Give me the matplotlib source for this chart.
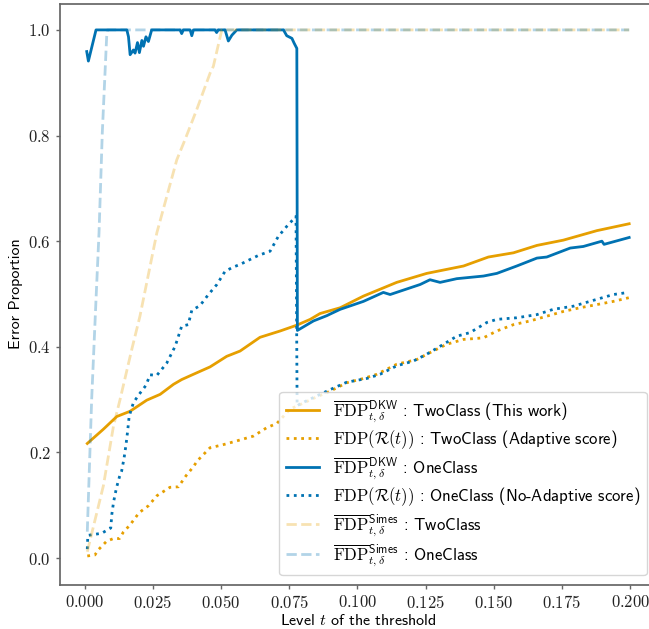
import matplotlib
matplotlib.use("Agg")
import matplotlib.pyplot as plt
from matplotlib.ticker import FuncFormatter

plt.rcParams['mathtext.fontset'] = 'cm'
plt.rcParams['font.family'] = ['cmss10', 'DejaVu Sans']
plt.rcParams['axes.unicode_minus'] = False

ORANGE = '#E69F00'
BLUE = '#0072B2'

# TwoClass, DKW bound (solid orange)
t_two_dkw = [0.001, 0.0069, 0.0118, 0.0167, 0.0228, 0.0277, 0.0326, 0.0356, 0.0399,
             0.046, 0.0521, 0.057, 0.0643, 0.0717, 0.0778, 0.0827, 0.0863, 0.0937,
             0.1022, 0.1144, 0.1254, 0.1389, 0.148, 0.1572, 0.1658, 0.1755, 0.1878, 0.1996]
v_two_dkw = [0.217, 0.244, 0.268, 0.278, 0.299, 0.310, 0.329, 0.338, 0.348,
             0.362, 0.382, 0.392, 0.418, 0.430, 0.441, 0.452, 0.463, 0.474,
             0.496, 0.522, 0.539, 0.553, 0.570, 0.578, 0.592, 0.602, 0.620, 0.633]

# TwoClass, true FDP (dotted orange)
t_two_fdp = [0.001, 0.0038, 0.0051, 0.0081, 0.0106, 0.0128, 0.0142, 0.0167, 0.020,
             0.0234, 0.0265, 0.0313, 0.0344, 0.0372, 0.0399, 0.0413, 0.046, 0.0503,
             0.0545, 0.0619, 0.0668, 0.0705, 0.0753, 0.080, 0.085, 0.090, 0.0961,
             0.1022, 0.1071, 0.1144, 0.1218, 0.1266, 0.1328, 0.1389, 0.1462, 0.1511,
             0.1572, 0.1633, 0.1694, 0.1755, 0.1816, 0.1878, 0.1938, 0.1995]
v_two_fdp = [0.004, 0.006, 0.016, 0.032, 0.037, 0.037, 0.049, 0.063, 0.086,
             0.099, 0.118, 0.134, 0.135, 0.156, 0.173, 0.184, 0.209, 0.214,
             0.220, 0.231, 0.247, 0.255, 0.282, 0.293, 0.305, 0.316, 0.332,
             0.340, 0.348, 0.367, 0.376, 0.389, 0.405, 0.414, 0.417, 0.430,
             0.442, 0.449, 0.458, 0.467, 0.474, 0.480, 0.486, 0.493]

# OneClass, DKW bound (solid blue)
t_one_dkw = [0.0008, 0.0014, 0.0042, 0.0155, 0.0161, 0.0167, 0.0179, 0.0185, 0.0194,
             0.0201, 0.021, 0.0216, 0.0225, 0.0234, 0.0246, 0.0350, 0.0356, 0.0362,
             0.0387, 0.0393, 0.0399, 0.0478, 0.0484, 0.049, 0.0515, 0.0527, 0.054,
             0.0558, 0.0729, 0.0741, 0.076, 0.0768, 0.0775, 0.0778, 0.0780, 0.0839,
             0.0888, 0.090, 0.0937, 0.1022, 0.1095, 0.112, 0.123, 0.1266, 0.1303,
             0.1364, 0.1462, 0.1511, 0.1584, 0.1658, 0.1694, 0.178, 0.1828, 0.1896,
             0.1904, 0.1996]
v_one_dkw = [0.959, 0.941, 1.0, 1.0, 0.987, 0.953, 0.962, 0.956, 0.976,
             0.957, 0.980, 0.969, 0.987, 0.978, 1.0, 1.0, 0.993, 1.0,
             1.0, 0.989, 1.0, 1.0, 0.995, 1.0, 1.0, 0.979, 0.990,
             1.0, 1.0, 0.989, 0.984, 0.975, 0.968, 0.965, 0.431, 0.449,
             0.459, 0.462, 0.471, 0.486, 0.503, 0.499, 0.518, 0.527, 0.522,
             0.529, 0.534, 0.539, 0.553, 0.568, 0.570, 0.587, 0.590, 0.600,
             0.594, 0.607]

# OneClass, true FDP (dotted blue)
t_one_fdp = [0.001, 0.0012, 0.0063, 0.0096, 0.0100, 0.0106, 0.0112, 0.0118, 0.0128,
             0.0136, 0.0145, 0.0152, 0.0158, 0.0163, 0.0169, 0.0179, 0.0197, 0.0225,
             0.024, 0.0265, 0.0301, 0.0332, 0.0356, 0.038, 0.0393, 0.0423, 0.0454,
             0.0485, 0.0515, 0.0545, 0.057, 0.0613, 0.0637, 0.068, 0.071, 0.0741,
             0.0775, 0.0779, 0.079, 0.0839, 0.090, 0.0961, 0.1034, 0.1083, 0.1144,
             0.1205, 0.1254, 0.1303, 0.1364, 0.1413, 0.1474, 0.1511, 0.1584, 0.1658,
             0.1718, 0.1792, 0.1878, 0.1938, 0.1993]
v_one_fdp = [0.017, 0.043, 0.047, 0.057, 0.083, 0.105, 0.121, 0.135, 0.154,
             0.165, 0.190, 0.215, 0.241, 0.266, 0.278, 0.294, 0.308, 0.327,
             0.347, 0.346, 0.369, 0.401, 0.439, 0.442, 0.469, 0.478, 0.499,
             0.518, 0.543, 0.551, 0.556, 0.567, 0.573, 0.581, 0.609, 0.628,
             0.647, 0.288, 0.292, 0.304, 0.319, 0.333, 0.340, 0.348, 0.364,
             0.373, 0.386, 0.401, 0.420, 0.427, 0.446, 0.452, 0.455, 0.461,
             0.471, 0.477, 0.490, 0.499, 0.503]

# Simes bounds (pale dashed)
t_two_simes = [0.001, 0.0069, 0.0106, 0.013, 0.0173, 0.0203, 0.0265, 0.0338, 0.0368,
               0.0411, 0.046, 0.0472, 0.0503, 0.1996]
v_two_simes = [0.012, 0.137, 0.250, 0.300, 0.395, 0.458, 0.616, 0.754, 0.792,
               0.849, 0.918, 0.931, 1.0, 1.0]
t_one_simes = [0.001, 0.0026, 0.0042, 0.0053, 0.0057, 0.0065, 0.0081, 0.0084, 0.1996]
v_one_simes = [0.05, 0.30, 0.49, 0.616, 0.679, 0.805, 0.987, 1.0, 1.0]

lab_dkw = r'$\overline{\mathrm{FDP}}^{\mathsf{DKW}}_{t,\delta}$'
lab_simes = r'$\overline{\mathrm{FDP}}^{\mathsf{Simes}}_{t,\delta}$'
lab_fdp = r'$\mathrm{FDP}(\mathcal{R}(t))$'

fig = plt.figure(figsize=(6.49, 6.29), dpi=100)
ax = fig.add_axes([60 / 649, 1 - 584.5 / 629, 597 / 649, 581 / 629])

ax.plot(t_two_dkw, v_two_dkw, color=ORANGE, lw=2, label=lab_dkw + ' : TwoClass (This work)')
ax.plot(t_two_fdp, v_two_fdp, color=ORANGE, lw=2, ls=':', label=lab_fdp + ' : TwoClass (Adaptive score)')
ax.plot(t_one_dkw, v_one_dkw, color=BLUE, lw=2, label=lab_dkw + ' : OneClass')
ax.plot(t_one_fdp, v_one_fdp, color=BLUE, lw=2, ls=':', label=lab_fdp + ' : OneClass (No-Adaptive score)')
ax.plot(t_two_simes, v_two_simes, color=ORANGE, lw=2, ls='--', alpha=0.3, label=lab_simes + ' : TwoClass')
ax.plot(t_one_simes, v_one_simes, color=BLUE, lw=2, ls='--', alpha=0.3, label=lab_simes + ' : OneClass')

ax.set_xlim(-0.009, 0.2098)
ax.set_ylim(-0.05, 1.05)
ax.set_xticks([0, 0.025, 0.05, 0.075, 0.1, 0.125, 0.15, 0.175, 0.2])
ax.set_yticks([0, 0.2, 0.4, 0.6, 0.8, 1.0])
ax.xaxis.set_major_formatter(FuncFormatter(lambda v, p: f'${v:.3f}$'))
ax.yaxis.set_major_formatter(FuncFormatter(lambda v, p: f'${v:.1f}$'))
ax.tick_params(labelsize=12, length=3, width=1, color='#666666', labelcolor='#222222')
for sp in ax.spines.values():
    sp.set_color('#666666')
    sp.set_linewidth(1.25)

ax.set_xlabel(r'Level $t$ of the threshold', fontsize=11.5, labelpad=2)
ax.set_ylabel('Error Proportion', fontsize=11.5)

ax.legend(loc='lower right', bbox_to_anchor=(646.7 / 649, 54 / 629),
          bbox_transform=fig.transFigure, borderaxespad=0, fontsize=12,
          handlelength=2.0, labelspacing=0.25)

fig.savefig('out.png', dpi=100)
